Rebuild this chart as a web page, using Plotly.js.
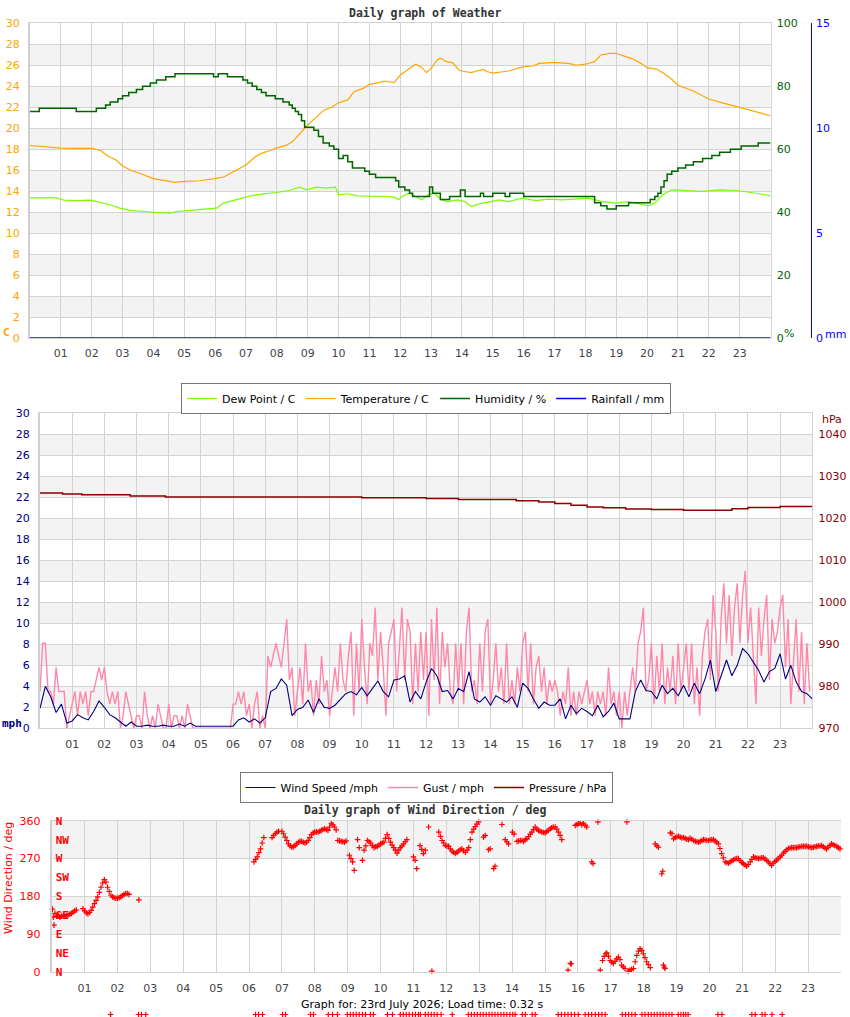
<!DOCTYPE html>
<html><head><meta charset="utf-8">
<script src="https://cdn.plot.ly/plotly-3.0.1.min.js"></script>
<style>html,body{margin:0;padding:0;background:#fff}#chart{width:850px;height:1017px}</style>
</head><body><div id="chart"></div>
<script>
// ---------- DATA ----------
const hourLabels = ['01','02','03','04','05','06','07','08','09','10','11','12','13','14','15','16','17','18','19','20','21','22','23'];
const hourTicks = [1,2,3,4,5,6,7,8,9,10,11,12,13,14,15,16,17,18,19,20,21,22,23];

// Temperature / C
const tempHours = [0,0.5,1,1.5,2,2.3,2.5,2.8,3,3.3,3.5,4,4.3,4.5,4.7,5,5.5,6,6.3,6.5,6.8,7,7.3,7.5,7.8,8,8.3,8.5,8.8,9,9.3,9.5,9.8,10,10.3,10.5,10.8,11,11.3,11.5,11.8,12,12.3,12.5,12.7,12.85,13,13.2,13.3,13.5,13.7,13.8,13.9,14,14.3,14.5,14.7,14.8,15,15.5,16,16.3,16.5,17,17.5,17.7,18,18.3,18.5,18.8,19,19.3,19.5,19.8,20,20.3,20.5,20.8,21,21.5,22,22.5,23,23.5,24];
const tempValues = [18.35,18.2,18.1,18.07,18.07,17.85,17.4,16.95,16.4,15.94,15.75,15.2,15.05,14.9,14.83,14.93,14.99,15.2,15.37,15.7,16.15,16.5,17.27,17.6,17.9,18.13,18.36,18.7,19.66,20.3,21.1,21.67,22.05,22.43,22.7,23.48,23.8,24.18,24.34,24.5,24.34,25.07,25.7,26.1,25.8,25.3,25.7,26.5,26.67,26.34,26.25,25.87,25.55,25.45,25.3,25.48,25.6,25.4,25.26,25.45,25.87,25.93,26.18,26.28,26.15,26.0,26.1,26.34,26.98,27.14,27.14,26.82,26.66,26.18,25.77,25.64,25.3,24.66,24.1,23.55,22.78,22.37,21.99,21.63,21.19];

// Dew Point / C
const dewHours = [0,0.5,0.86,1.1,1.5,1.95,2.15,2.6,2.9,3.25,3.7,4.0,4.55,4.75,5.2,5.7,6.05,6.27,6.7,7.15,7.55,8.0,8.4,8.75,8.95,9.3,9.6,9.9,10.0,10.3,10.6,11.05,11.5,11.8,11.95,12.05,12.3,12.5,12.7,12.9,13.1,13.35,13.55,13.85,14.1,14.3,14.65,14.95,15.2,15.5,15.95,16.4,16.8,17.25,17.7,18.1,18.55,19.0,19.4,19.75,20.05,20.25,20.5,20.8,21.25,21.8,22.35,22.9,23.55,24];
const dewValues = [13.36,13.33,13.36,13.14,13.1,13.14,13.0,12.7,12.38,12.16,12.06,11.97,11.9,12.06,12.16,12.28,12.38,12.86,13.17,13.55,13.74,13.87,14.06,14.38,14.13,14.38,14.28,14.38,13.65,13.75,13.55,13.55,13.49,13.43,13.17,13.49,13.8,13.49,13.17,13.65,13.8,13.17,13.0,13.17,13.0,12.54,12.86,13.0,13.17,13.0,13.33,13.1,13.24,13.17,13.24,13.33,13.0,12.86,13.0,12.79,12.6,12.86,13.65,14.13,14.06,13.97,14.13,14.06,13.8,13.55];

// Humidity / % (stepped)
const humHours = [0,0.3,1.5,2.15,2.45,2.6,2.85,3.0,3.2,3.45,3.65,3.9,4.1,4.4,4.7,5.95,6.1,6.4,6.9,7.05,7.2,7.35,7.5,7.65,7.95,8.2,8.4,8.5,8.6,8.7,8.8,8.9,9.2,9.35,9.5,9.7,9.85,10.0,10.15,10.3,10.45,10.85,11.0,11.2,11.85,11.95,12.15,12.3,12.4,12.95,13.05,13.3,13.6,13.95,14.1,14.6,14.7,15.0,15.4,15.55,16.0,18.3,18.5,18.7,19.0,19.4,20.1,20.25,20.35,20.45,20.55,20.65,20.8,21.0,21.25,21.5,21.8,22.1,22.35,22.7,23.05,23.6,24];
const humValues = [72,73,72,73,74,75,76,77,78,79,80,81,82,83,84,83,84,83,82,81,80,79,78,77,76,75,74,73,72,71,69,67,66,64,62,61,60,57,58,56,54,53,52,51,50,48,47,46,45,48,46,44,45,47,45,46,45,46,45,46,45,43,42,41,42,43,44,45,46,48,50,52,53,54,55,56,57,58,59,60,61,62,62];

// Rainfall / mm
const rainHours = [0,24];
const rainValues = [0,0];

// Wind Speed /mph (10-minute readings)
const windSpeed = [
 1.9,4.0,3.0,1.5,2.3,0.5, 0.7,1.3,1.0,0.8,1.6,2.6, 2.0,1.3,1.0,0.6,0.2,0.6, 0.2,0.2,0.3,0.2,0.2,0.3,
 0.2,0.2,0.4,0.2,0.5,0.2, 0.2,0.2,0.2,0.2,0.2,0.2, 0.2,0.8,1.0,0.6,0.9,0.5, 1.0,3.5,3.8,4.7,4.1,1.2,
 1.8,2.0,2.7,1.5,2.8,2.0, 1.9,2.2,2.8,3.3,3.5,3.2, 3.9,3.1,3.8,4.5,3.5,3.0, 4.6,4.7,5.0,2.5,3.5,2.8,
 4.4,5.7,5.0,3.5,3.6,2.8, 3.8,3.5,5.4,2.8,2.5,3.0, 2.2,3.1,2.8,2.5,3.0,2.0, 4.3,3.8,2.8,1.9,2.5,2.2,
 2.2,2.8,0.9,2.2,1.4,1.9, 1.6,1.2,2.2,1.1,1.6,2.4, 0.9,0.9,0.9,3.5,4.6,3.6, 3.5,2.8,4.1,3.3,3.8,3.1,
 4.1,3.0,4.3,3.3,4.7,6.5, 3.5,5.0,6.5,5.0,6.0,7.6, 7.1,6.3,5.5,4.4,5.4,5.7, 7.1,4.7,6.0,4.4,3.5,3.3, 2.8];

// Gust / mph (5-minute readings)
const gust = [
 3.5,8.1,8.1,3.5,3.5,2.3,5.8,3.5,3.5,3.5,0,1.2,
 2.3,3.5,1.2,3.5,2.3,3.5,1.2,3.5,3.5,4.6,5.8,4.6,
 5.8,3.5,2.3,3.5,2.3,3.5,0,1.2,3.5,2.3,1.2,0,
 1.2,1.2,0,3.5,1.2,0,1.2,0,2.3,1.2,0,0,
 2.3,0,1.2,1.2,0,1.2,0,2.3,1.2,0,0,0,
 0,0,0,0,0,0,0,0,0,0,0,0,
 2.3,2.3,3.5,2.3,3.5,1.2,2.3,0,2.3,3.5,0,1.2,
 0,6.9,5.8,6.9,8.1,6.9,5.8,8.1,10.4,4.6,5.8,1.2,
 3.5,5.8,2.3,8.1,3.5,4.6,1.2,4.6,2.3,6.9,3.5,4.6,
 1.2,3.5,5.8,3.5,8.1,4.6,3.5,6.9,9.2,1.2,8.1,3.5,
 10.4,5.8,2.3,8.1,6.9,11.5,4.6,9.2,5.8,1.2,8.1,9.2,
 10.4,3.5,8.1,11.5,4.6,10.4,9.2,2.3,8.1,3.5,9.2,4.6,
 9.2,1.2,10.4,4.6,11.5,2.3,9.2,5.8,8.1,3.5,2.3,8.1,
 3.5,8.1,2.3,9.2,11.5,3.5,4.6,2.3,8.1,3.5,9.2,10.4,
 2.3,4.6,8.1,3.5,5.8,2.3,8.1,2.3,4.6,2.3,5.8,3.5,
 8.1,9.2,3.5,8.1,2.3,5.8,6.9,3.5,5.8,2.3,4.6,3.5,
 4.6,3.5,1.2,3.5,2.3,5.8,1.2,3.5,1.2,3.5,2.3,3.5,
 4.6,2.3,3.5,1.2,3.5,2.3,3.5,1.2,5.8,2.3,3.5,1.2,
 3.5,0,3.5,1.2,3.5,5.8,3.5,8.1,9.2,11.5,3.5,4.6,
 8.1,2.3,6.9,3.5,8.1,2.3,5.8,3.5,6.9,2.3,8.1,3.5,
 5.8,8.1,3.5,8.1,2.3,5.8,1.2,6.9,9.2,10.4,4.6,12.7,
 9.2,3.5,10.4,13.8,8.1,12.7,6.9,11.5,13.8,8.1,12.7,15.0,
 8.1,11.5,6.9,2.3,11.5,6.9,10.4,12.7,4.6,10.4,8.1,9.2,
 11.5,12.7,5.8,10.4,2.3,6.9,10.4,3.5,9.2,2.3,8.1,3.5];

// Pressure / hPa (stepped)
const pressHours = [0,0.7,1.3,2.8,3.9,10.0,12.0,13.0,14.8,15.5,16.0,16.5,17.0,17.5,18.2,19.0,20.0,21.5,22.0,23.0,24];
const pressValues = [1026.0,1025.8,1025.6,1025.3,1025.1,1024.9,1024.7,1024.5,1024.2,1023.9,1023.5,1023.1,1022.7,1022.5,1022.2,1022.1,1021.9,1022.3,1022.6,1022.8,1022.7];

// Wind Direction / deg
const dirHours = [0.02,0.05,0.07,0.1,0.15,0.2,0.25,0.3,0.35,0.4,0.45,0.5,0.55,0.6,0.65,0.7,0.75,
 0.95,1.0,1.05,1.1,1.15,1.2,1.25,1.3,1.35,1.4,1.45,1.5,1.55,1.6,1.65,1.7,1.75,1.8,1.85,1.9,1.95,2.0,2.05,2.1,2.15,2.2,2.25,2.3,2.35,2.65,
 6.15,6.2,6.25,6.3,6.35,6.4,6.45,6.7,6.75,6.8,6.85,6.9,7.0,7.05,7.1,7.15,7.2,7.25,7.3,7.35,7.4,7.45,7.5,7.55,7.6,7.65,7.7,7.75,7.8,7.85,7.9,7.95,8.0,8.05,8.1,8.15,8.2,8.25,8.3,8.35,8.4,8.45,8.5,8.55,8.6,8.65,8.7,8.75,8.8,8.85,8.9,8.95,
 9.05,9.1,9.15,9.2,9.3,9.35,9.45,9.5,9.55,9.6,9.65,9.7,9.75,9.8,9.85,9.9,9.95,10.0,10.05,10.1,10.15,10.2,10.25,10.3,10.35,10.4,10.45,10.5,10.55,10.6,10.65,10.7,10.75,10.8,
 11.0,11.05,11.1,11.2,11.25,11.3,11.36,11.46,11.56,11.77,11.82,11.87,11.92,11.97,12.02,12.07,12.12,12.17,12.22,12.27,12.32,12.37,12.42,12.47,12.52,12.58,12.63,12.68,12.73,12.78,12.83,12.88,12.93,12.98,
 13.13,13.18,13.28,13.33,13.44,13.48,13.69,13.79,13.84,13.89,14.01,14.06,14.15,14.2,14.25,14.3,14.35,14.4,14.45,14.5,14.55,14.6,14.65,14.7,14.75,14.8,14.85,14.9,14.95,15.0,15.05,15.1,15.16,15.2,15.25,15.31,15.36,15.41,15.46,15.51,15.7,15.77,15.8,
 15.92,15.97,16.02,16.07,16.12,16.17,16.22,16.27,16.42,16.46,16.61,16.68,
 16.75,16.8,16.85,16.88,16.93,16.98,17.03,17.08,17.13,17.18,17.23,17.28,17.33,17.38,17.43,17.49,17.53,17.58,17.63,17.69,17.74,17.79,17.84,17.89,17.94,17.99,18.04,18.09,18.14,18.2,
 18.35,18.4,18.45,18.55,18.58,18.6,18.63,18.65,
 18.81,18.86,18.91,18.96,19.01,19.06,19.11,19.16,19.21,19.26,19.31,19.36,19.41,19.46,19.52,19.57,19.62,19.67,19.72,19.77,19.82,19.87,19.92,19.97,20.02,20.07,20.12,20.17,20.22,20.27,20.32,20.37,20.42,20.48,20.53,20.58,20.63,20.68,20.73,20.78,20.83,20.88,20.93,20.98,21.03,21.08,21.13,21.18,21.24,21.29,21.34,21.39,21.44,21.49,21.54,21.59,21.64,21.69,21.74,21.79,21.84,21.89,21.94,21.99,22.04,22.09,22.15,22.2,22.25,22.3,22.35,22.4,22.45,22.5,22.55,22.6,22.65,22.7,22.75,22.81,22.86,22.91,22.96,23.01,23.06,23.11,23.16,23.21,23.26,23.31,23.36,23.41,23.46,23.51,23.56,23.61,23.66,23.71,23.76,23.81,23.87,23.92,23.97];
const dirValues = [150,131,112,140,133,135,131,133,134,133,135,136,138,140,143,146,148,
 151,146,141,139,142,147,155,163,171,179,190,202,212,220,214,202,192,183,179,177,176,176,177,179,182,185,187,187,185,172,
 262,268,274,284,293,307,320,320,325,329,333,335,335,329,321,313,305,300,297,298,301,305,309,311,311,309,307,309,313,320,327,331,333,333,333,335,337,339,341,339,337,345,354,350,345,338,313,312,311,310,309,312,
 278,270,262,242,315,296,266,290,300,313,310,307,301,296,298,299,302,305,307,309,318,327,318,309,302,296,290,283,290,296,300,305,310,315,
 274,266,246,301,292,282,290,345,3,333,323,313,307,301,300,299,293,288,285,282,285,288,291,293,289,285,290,296,315,333,340,346,352,357,
 321,325,291,293,246,252,351,315,310,305,333,328,311,312,313,313,311,315,317,322,328,333,339,345,340,337,335,333,332,331,334,337,341,343,345,345,340,333,325,315,5,21,20,
 349,351,353,355,350,354,349,345,262,258,357,5,
 28,38,44,46,38,28,24,21,26,32,36,30,17,13,9,357,3,5,7,9,25,40,50,56,52,44,35,25,18,11,
 305,300,297,234,240,17,12,9,
 331,329,317,320,322,323,321,319,320,318,316,315,318,316,313,311,310,309,311,313,315,314,313,313,314,315,315,312,309,305,294,282,272,262,260,259,262,265,267,269,270,270,265,261,258,255,252,256,262,268,274,272,271,270,271,272,272,269,266,262,258,254,259,263,266,270,274,278,283,287,291,294,295,296,296,296,296,297,298,299,299,299,299,298,297,296,297,298,299,300,300,301,298,295,293,297,301,305,303,301,299,296,293];

// strip of direction markers at the foot of the page
const stripHours = [1.79,2.64,2.73,2.86,6.20,6.29,6.41,7.02,7.11,7.87,7.96,8.41,8.54,8.69,8.99,9.08,9.17,9.26,9.35,9.45,9.54,9.69,9.78,10.21,10.36,10.60,10.69,10.78,10.87,10.97,11.06,11.15,11.21,11.36,11.45,11.54,11.63,11.72,11.84,12.18,12.67,12.76,12.85,12.94,13.03,13.12,13.21,13.3,13.39,13.48,13.57,13.66,13.75,13.84,13.93,14.02,14.09,14.31,14.40,14.61,14.70,15.40,15.5,15.6,15.70,15.8,15.9,16.01,16.22,16.32,16.42,16.53,16.63,16.73,16.83,17.35,17.45,17.54,17.64,17.74,17.95,18.04,18.14,18.23,18.32,18.41,18.5,18.59,18.68,18.77,18.86,19.05,19.13,19.21,19.28,19.35,20.26,20.38,21.29,21.39,21.60,21.69,21.90,22.21];

const compassVals = [0,45,90,135,180,225,270,315,360];
const compassText = ['N','NE','E','SE','S','SW','W','NW','N'];

// ---------- LAYOUT ----------
const W = 850, H = 1017;
const px = v => v / W;
const py = v => 1 - v / H;
const windHours = windSpeed.map((_, i) => i / 6);
const gustHours = gust.map((_, i) => i / 12);

const FONT = 'DejaVu Sans';
const MONO = 'DejaVu Sans Mono';
const GRID = '#d3d3d3';
const BAND = '#f3f3f3';

const xBase = (dom, anchor) => ({
  domain: dom, anchor: anchor, range: [0, 24], tickvals: hourTicks, ticktext: hourLabels,
  showgrid: true, gridcolor: GRID, gridwidth: 1, zeroline: false, showline: true, mirror: true,
  linecolor: GRID, linewidth: 1, ticks: '', ticklabelstandoff: 5,
  tickfont: {family: FONT, size: 11, color: '#444'}, fixedrange: true
});

const dirMarker = {symbol: 'cross-thin', size: 4, color: '#ff0000', line: {color: '#ff0000', width: 1.2}};

const traces = [
  {x: dewHours, y: dewValues, name: 'Dew Point / C', type: 'scatter', mode: 'lines', xaxis: 'x', yaxis: 'y',
   line: {color: '#7cfc00', width: 1.2}, legend: 'legend'},
  {x: tempHours, y: tempValues, name: 'Temperature / C', type: 'scatter', mode: 'lines', xaxis: 'x', yaxis: 'y',
   line: {color: '#ffa500', width: 1.2}, legend: 'legend'},
  {x: humHours, y: humValues, name: 'Humidity / %', type: 'scatter', mode: 'lines', xaxis: 'x', yaxis: 'y2',
   line: {color: '#006400', width: 1.5, shape: 'hv'}, legend: 'legend'},
  {x: rainHours, y: rainValues, name: 'Rainfall / mm', type: 'scatter', mode: 'lines', xaxis: 'x', yaxis: 'y3',
   line: {color: '#0000ff', width: 1.5}, legend: 'legend', cliponaxis: false},

  {x: gustHours, y: gust, name: 'Gust / mph', type: 'scatter', mode: 'lines', xaxis: 'x2', yaxis: 'y4',
   line: {color: '#ff88aa', width: 1.4}, legend: 'legend2', legendrank: 2},
  {x: windHours, y: windSpeed, name: 'Wind Speed /mph', type: 'scatter', mode: 'lines', xaxis: 'x2', yaxis: 'y4',
   line: {color: '#000080', width: 1.1}, legend: 'legend2', legendrank: 1},
  {x: pressHours, y: pressValues, name: 'Pressure / hPa', type: 'scatter', mode: 'lines', xaxis: 'x2', yaxis: 'y5',
   line: {color: '#8b0000', width: 1.5, shape: 'hv'}, legend: 'legend2', legendrank: 3},

  {x: dirHours, y: dirValues, type: 'scatter', mode: 'markers', xaxis: 'x3', yaxis: 'y6', showlegend: false,
   cliponaxis: false, marker: dirMarker},
  {x: [], y: [], type: 'scatter', mode: 'markers', xaxis: 'x3', yaxis: 'y7', showlegend: false},
  {x: stripHours, y: stripHours.map(() => 0.42), type: 'scatter', mode: 'markers', xaxis: 'x4', yaxis: 'y8',
   showlegend: false, cliponaxis: false, marker: dirMarker}
];

// background bands
const shapes = [];
for (let v = 2; v < 30; v += 4) {
  shapes.push({type: 'rect', xref: 'x domain', yref: 'y', x0: 0, x1: 1, y0: v, y1: v + 2,
    fillcolor: BAND, line: {width: 0}, layer: 'below'});
  shapes.push({type: 'rect', xref: 'x2 domain', yref: 'y4', x0: 0, x1: 1, y0: v, y1: v + 2,
    fillcolor: BAND, line: {width: 0}, layer: 'below'});
}
[[90, 180], [270, 360]].forEach(b => shapes.push({type: 'rect', xref: 'x3 domain', yref: 'y6', x0: 0, x1: 1,
  y0: b[0], y1: b[1], fillcolor: BAND, line: {width: 0}, layer: 'below'}));

const ann = (text, x, y, color, opts) => Object.assign({text: text, xref: 'paper', yref: 'paper',
  x: px(x), y: py(y), xanchor: 'center', yanchor: 'middle', showarrow: false,
  font: {family: FONT, size: 11, color: color}}, opts || {});

const annotations = [
  ann('<b>Daily graph of Weather</b>', 425, 13, '#333', {font: {family: MONO, size: 11.5, color: '#333'}}),
  ann('<b>C</b>', 6, 332, '#ffa500', {font: {family: MONO, size: 11, color: '#ffa500'}}),
  ann('%', 789, 333, '#006400'),
  ann('mm', 835, 334, '#0000ff'),
  ann('hPa', 832, 419, '#8b0000'),
  ann('<b>mph</b>', 12, 723, '#000080', {font: {family: MONO, size: 11, color: '#000080'}}),
  ann('<b>Daily graph of Wind Direction / deg</b>', 425, 810, '#333', {font: {family: MONO, size: 11.5, color: '#333'}}),
  ann('Wind Direction / deg', 8, 878, '#ff0000', {textangle: -90}),
  ann('Graph for: 23rd July 2026; Load time: 0.32 s', 422, 1004, '#000')
];

const layout = {
  width: W, height: H, margin: {l: 0, r: 0, t: 0, b: 0, pad: 0},
  paper_bgcolor: '#fff', plot_bgcolor: '#fff', font: {family: FONT, size: 11, color: '#000'},
  showlegend: true,
  xaxis: xBase([px(30), px(770.5)], 'y'),
  yaxis: {domain: [py(338), py(23.3)], anchor: 'x', range: [0, 30], tick0: 0, dtick: 2,
    showgrid: true, gridcolor: GRID, zeroline: false, showline: true, linecolor: '#cfcfcf', linewidth: 2,
    ticks: '', ticklabelstandoff: 6, tickfont: {family: FONT, size: 11, color: '#ffa500'}, fixedrange: true},
  yaxis2: {overlaying: 'y', side: 'right', anchor: 'x', range: [0, 100], tick0: 0, dtick: 20,
    showgrid: false, zeroline: false, showline: true, linecolor: GRID, ticks: '', ticklabelstandoff: 3,
    tickfont: {family: FONT, size: 11, color: '#006400'}, fixedrange: true},
  yaxis3: {overlaying: 'y', side: 'right', anchor: 'free', position: px(810.7), range: [0, 15], tick0: 0, dtick: 5,
    showgrid: false, zeroline: false, showline: true, linecolor: '#0000ff', linewidth: 1, ticks: '', ticklabelstandoff: 2,
    tickfont: {family: FONT, size: 11, color: '#0000ff'}, fixedrange: true},

  xaxis2: xBase([px(40), px(812.3)], 'y4'),
  yaxis4: {domain: [py(728.3), py(413.3)], anchor: 'x2', range: [0, 30], tick0: 0, dtick: 2,
    showgrid: true, gridcolor: GRID, zeroline: false, showline: true, linecolor: '#cfcfcf', linewidth: 2,
    ticks: '', ticklabelstandoff: 6, tickfont: {family: FONT, size: 11, color: '#000080'}, fixedrange: true},
  yaxis5: {overlaying: 'y4', side: 'right', anchor: 'x2', range: [970, 1045],
    tickvals: [970, 980, 990, 1000, 1010, 1020, 1030, 1040],
    showgrid: false, zeroline: false, showline: true, linecolor: GRID, ticks: '', ticklabelstandoff: 3,
    tickfont: {family: FONT, size: 11, color: '#8b0000'}, fixedrange: true},

  xaxis3: xBase([px(51.7), px(841)], 'y6'),
  yaxis6: {domain: [py(972.3), py(820.7)], anchor: 'x3', range: [0, 360], tickvals: [0, 90, 180, 270, 360],
    showgrid: true, gridcolor: GRID, zeroline: false, showline: true, linecolor: '#cfcfcf', linewidth: 2,
    ticks: '', ticklabelstandoff: 7, tickfont: {family: FONT, size: 11, color: '#ff0000'}, fixedrange: true},
  yaxis7: {overlaying: 'y6', side: 'left', anchor: 'x3', range: [0, 360], tickvals: compassVals, ticktext: compassText,
    ticklabelposition: 'inside', ticklabeloverflow: 'allow', showgrid: false, zeroline: false, showline: false,
    ticks: '', ticklabelstandoff: 1,
    tickfont: {family: MONO, size: 11, color: '#ff0000', weight: 'bold'}, fixedrange: true},

  xaxis4: {domain: [px(51.7), px(841)], anchor: 'y8', range: [0, 24], visible: false, fixedrange: true},
  yaxis8: {domain: [0, 6 / H], anchor: 'x4', range: [0, 1], visible: false, fixedrange: true},

  legend: {orientation: 'h', x: px(426), xanchor: 'center', y: py(383), yanchor: 'top',
    bordercolor: '#777', borderwidth: 1, bgcolor: '#fff', font: {family: FONT, size: 11, color: '#000'},
    itemwidth: 30, traceorder: 'normal'},
  legend2: {orientation: 'h', x: px(426), xanchor: 'center', y: py(772), yanchor: 'top',
    bordercolor: '#777', borderwidth: 1, bgcolor: '#fff', font: {family: FONT, size: 11, color: '#000'},
    itemwidth: 30, traceorder: 'normal'},

  shapes: shapes,
  annotations: annotations
};

Plotly.newPlot('chart', traces, layout, {staticPlot: true, displayModeBar: false});
</script>
</body></html>
